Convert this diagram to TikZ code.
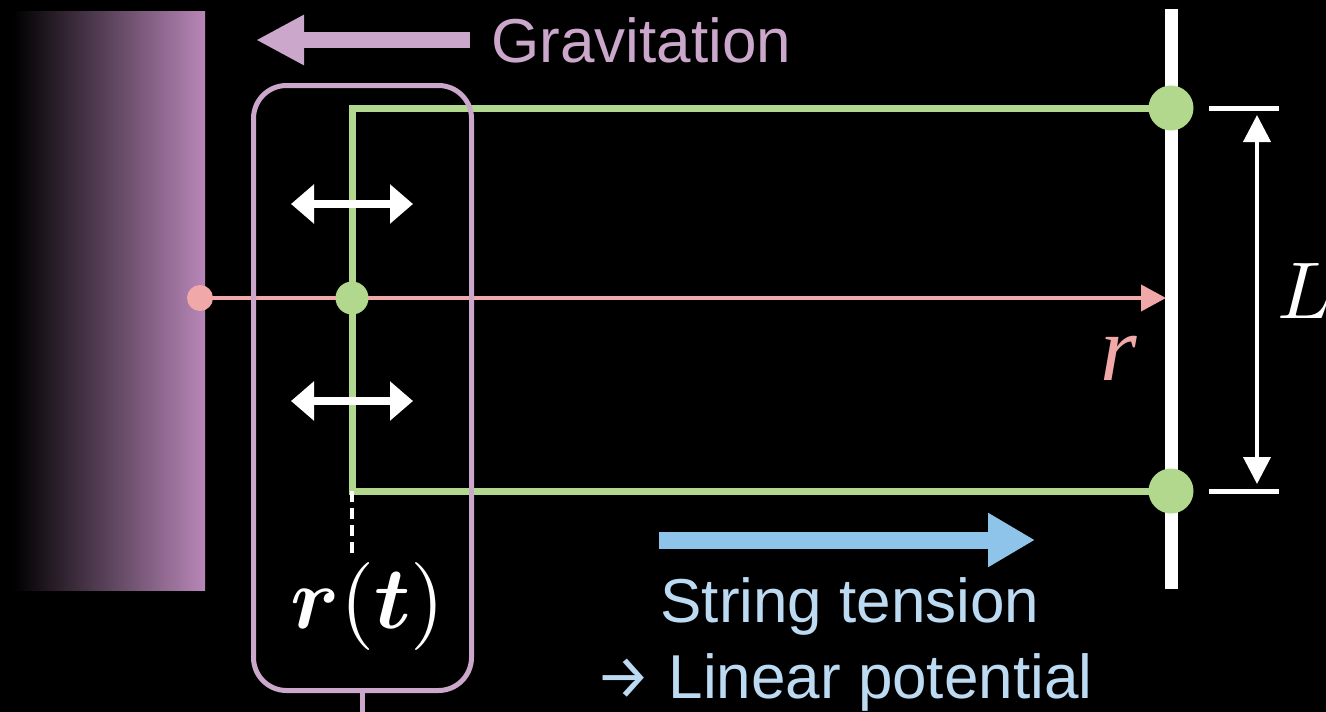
\documentclass[tikz,border=0pt]{standalone}
\usepackage[no-math]{fontspec}
\setmainfont{Liberation Sans}
\newfontfamily\arrowfont{Fira Sans}
\newfontfamily\timesfont{Liberation Serif}
\usepackage{amsmath}
\usetikzlibrary{arrows.meta}
\definecolor{wallpurple}{RGB}{184,135,184}
\definecolor{gravpurple}{RGB}{203,167,204}
\definecolor{stringgreen}{RGB}{178,216,142}
\definecolor{radialpink}{RGB}{241,168,168}
\definecolor{tensionblue}{RGB}{143,196,234}
\definecolor{tensiontext}{RGB}{188,218,242}
\tikzset{
  big-text/.style={font=\fontsize{62}{76}\selectfont, inner sep=0pt},
  fat-arrow/.style={line width=16pt, -{Triangle[length=48pt,width=47pt]}},
  wiggle/.style={
    white,
    line width=8pt,
    {Triangle[length=23pt,width=38pt]}-{Triangle[length=23pt,width=38pt]}
  },
  string-line/.style={stringgreen, line width=7pt},
  dot-green/.style={
    circle,
    fill=stringgreen,
    minimum size=45pt,
    inner sep=0pt
  },
  dot-probe/.style={dot-green, minimum size=33pt},
  dot-pink/.style={
    circle,
    fill=radialpink,
    minimum size=26pt,
    inner sep=0pt
  },
  probe-box/.style={
    draw=gravpurple,
    line width=5pt,
    rounded corners=33pt,
    minimum width=218pt,
    minimum height=605pt,
    inner sep=0pt
  }
}

\begin{document}
\begin{tikzpicture}[x=1pt, y=-1pt]
  \fill[black] (0,0) rectangle (1326,712);
  \useasboundingbox (0,0) rectangle (1326,712);
  % wall on the left
  \shade[left color=black, middle color=wallpurple!72!black,
    right color=wallpurple] (13,11) rectangle (205,590);
  % gravitation
  \coordinate (grav-tail) at (470,40);
  \coordinate (grav-tip) at (256,40);
  \draw[gravpurple, fat-arrow] (grav-tail) -- (grav-tip);
  \node[big-text, text=gravpurple, anchor=base west] (grav) at (491,62) {Gravitation};
  % positions
  \coordinate (wall-pt) at (200,298);
  \coordinate (probe) at (352,298);
  \coordinate (r-tip) at (1166,298);
  \coordinate (q-top) at (1171,108);
  \coordinate (q-bot) at (1171,491);
  \coordinate (bend-top) at (352,108);
  \coordinate (bend-bot) at (352,491);
  \coordinate (plate-top) at (1171,9);
  \coordinate (plate-bot) at (1171,589);
  % radial line
  \draw[radialpink, line width=4pt, -{Triangle[length=25pt,width=26pt]}]
    (wall-pt) -- (r-tip);
  \node[dot-pink] (wall-dot) at (wall-pt) {};
  % string
  \draw[string-line] (q-top) -- (bend-top) -- (bend-bot) -- (q-bot);
  \draw[white, line width=13pt] (plate-top) -- (plate-bot);
  \node[dot-green] (q-top-dot) at (q-top) {};
  \node[dot-green] (q-bot-dot) at (q-bot) {};
  \node[dot-probe] (probe-dot) at (probe) {};
  % box round the end of the string
  \node[probe-box] (box) at (362.5,388) {};
  \coordinate (stem-end) at (362.5,716);
  \draw[gravpurple, line width=5pt] (box.south) -- (stem-end);
  % oscillation
  \coordinate (osc-a-l) at (291,204);
  \coordinate (osc-a-r) at (413,204);
  \coordinate (osc-b-l) at (291,401);
  \coordinate (osc-b-r) at (413,401);
  \draw[wiggle] (osc-a-l) -- (osc-a-r);
  \draw[wiggle] (osc-b-l) -- (osc-b-r);
  % r(t)
  \coordinate (dash-end) at (352,553);
  \draw[white, line width=4pt, dash pattern=on 11pt off 6pt] (bend-bot) -- (dash-end);
  \node[scale=8.8, text=white, inner sep=0pt] (rt) at (368,606)
    {$\boldsymbol{r}(\boldsymbol{t})$};
  \node[text=radialpink, inner sep=0pt, anchor=base,
    font=\timesfont\itshape\fontsize{94}{94}\selectfont] (r-label) at (1119,380) {r};
  % separation L
  \coordinate (tick-top-l) at (1209,108);
  \coordinate (tick-top-r) at (1279,108);
  \coordinate (tick-bot-l) at (1209,491);
  \coordinate (tick-bot-r) at (1279,491);
  \draw[white, line width=5pt] (tick-top-l) -- (tick-top-r);
  \draw[white, line width=5pt] (tick-bot-l) -- (tick-bot-r);
  \coordinate (L-top) at (1257,115);
  \coordinate (L-bot) at (1257,484);
  \draw[white, line width=4pt,
    {Triangle[length=27pt,width=27pt]}-{Triangle[length=27pt,width=27pt]}]
    (L-top) -- (L-bot);
  \node[scale=8.05, text=white, inner sep=0pt, anchor=base west] (L-label) at (1276,318) {$L$};
  % string tension
  \coordinate (ten-tail) at (659,540);
  \coordinate (ten-tip) at (1035,540);
  \draw[tensionblue, line width=17pt, -{Triangle[length=47pt,width=51pt]}]
    (ten-tail) -- (ten-tip);
  \node[big-text, text=tensiontext, anchor=base] (tension) at (850,622) {String tension};
  \node[big-text, text=tensiontext, anchor=base] (linear) at (844,698)
    {{\arrowfont →} Linear potential};
\end{tikzpicture}
\end{document}
